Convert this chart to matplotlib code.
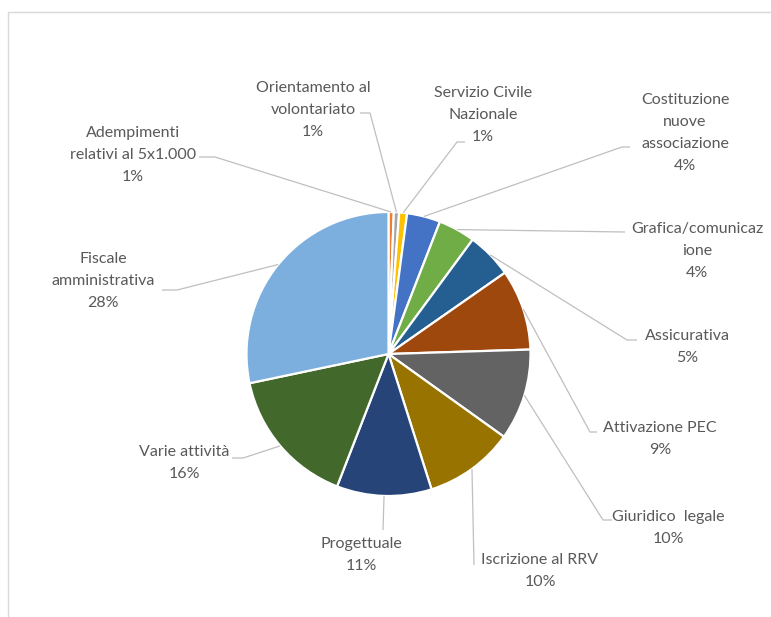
import numpy as np
import matplotlib
matplotlib.use("Agg")
import matplotlib.pyplot as plt
from matplotlib.patches import Rectangle

plt.rcParams['font.family'] = ['Lato', 'DejaVu Sans']

# slices, clockwise from 12 o'clock
categories = [
    "Adempimenti\nrelativi al 5x1.000",
    "Orientamento al\nvolontariato",
    "Servizio Civile\nNazionale",
    "Costituzione\nnuove\nassociazione",
    "Grafica/comunicaz\nione",
    "Assicurativa",
    "Attivazione PEC",
    "Giuridico  legale",
    "Iscrizione al RRV",
    "Progettuale",
    "Varie attività",
    "Fiscale\namministrativa",
]
values = [0.6, 0.6, 0.9, 3.8, 4.2, 5.2, 9.2, 10.4, 10.2, 10.8, 15.8, 28.3]
colors = ['#ED7D31', '#A5A5A5', '#FFC000', '#4472C4', '#70AD47', '#255E91',
          '#9E480E', '#636363', '#997300', '#264478', '#43682B', '#7CAFDD']

# label layout in pixel coords: text centre, elbow of leader, tail near text
text_pos = [(133, 155), (313, 110), (483, 115), (685, 133), (697, 251), (687, 347),
            (660, 439), (668, 528), (540, 571), (361, 555), (184, 463), (103, 281)]
elbows = [(215, 157), (370, 113), (457, 142), (622, 147), (625, 232), (627, 340),
          (590, 432), (603, 520), (474, 565), (383, 530), (243, 458), (177, 290)]
tails = [(199, 157), (360, 113), (465, 142), (630, 147), (625, 232), (637, 340),
         (597, 432), (612, 520), (474, 565), (383, 530), (232, 458), (162, 290)]

W, H = 771, 617
cx, cy, r = 388.5, 354, 142

fig = plt.figure(figsize=(W / 100, H / 100), dpi=100)
ax = fig.add_axes([0, 0, 1, 1])

# y axis inverted -> counterclock in data is clockwise on screen
ax.pie(values, colors=colors, startangle=-90, counterclock=True,
       center=(cx, cy), radius=r,
       wedgeprops=dict(edgecolor='white', linewidth=1.6))
ax.set_xlim(0, W)
ax.set_ylim(H, 0)
ax.set_aspect('equal')
ax.axis('off')

# chart area border (runs off right/bottom)
ax.add_patch(Rectangle((7.5, 11.5), 900, 900, fill=False,
                       edgecolor='#D9D9D9', linewidth=1.0))

total = sum(values)
cum = np.cumsum([0] + values) / total
pct = [f"{round(v / total * 100):.0f}%" for v in values]

for i, cat in enumerate(categories):
    mid = (cum[i] + cum[i + 1]) / 2
    th = np.deg2rad(-90 + 360 * mid)
    ax_, ay_ = cx + r * np.cos(th), cy + r * np.sin(th)
    ex, ey = elbows[i]
    tx, ty = tails[i]
    ax.plot([ax_, ex, tx], [ay_, ey, ty], color='#BFBFBF', lw=0.9,
            solid_capstyle='butt')
    ax.text(text_pos[i][0], text_pos[i][1], f"{cat}\n{pct[i]}",
            ha='center', va='center', multialignment='center',
            fontsize=11.5, color='#595959', linespacing=1.7)

fig.savefig("out.png", dpi=100)
